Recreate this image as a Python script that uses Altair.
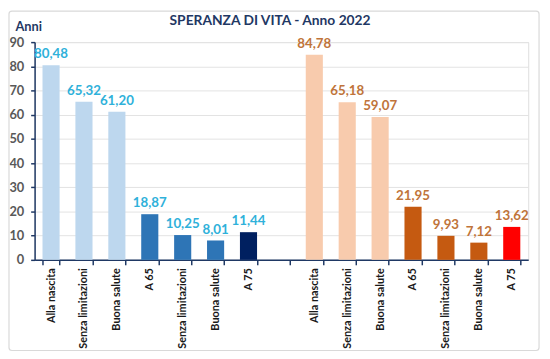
import json
import altair as alt
import pandas as pd

slots = ["M1", "M2", "M3", "M4", "M5", "M6", "M7", "gap", "F1", "F2", "F3", "F4", "F5", "F6", "F7"]
labels = ["Alla nascita", "Senza limitazioni", "Buona salute", "A 65", "Senza limitazioni", "Buona salute", "A 75",
          "", "Alla nascita", "Senza limitazioni", "Buona salute", "A 65", "Senza limitazioni", "Buona salute", "A 75"]
bar_slots = ["M1", "M2", "M3", "M4", "M5", "M6", "M7", "F1", "F2", "F3", "F4", "F5", "F6", "F7"]
values = [80.48, 65.32, 61.20, 18.87, 10.25, 8.01, 11.44, 84.78, 65.18, 59.07, 21.95, 9.93, 7.12, 13.62]
groups = ["M0", "M0", "M0", "M65", "M65", "M65", "M75", "F0", "F0", "F0", "F65", "F65", "F65", "F75"]
sex = ["M"] * 7 + ["F"] * 7
y_ticks = [0, 10, 20, 30, 40, 50, 60, 70, 80, 90]
title_text = ["SPERANZA DI VITA - Anno 2022"]

group_domain = ["M0", "M65", "M75", "F0", "F65", "F75"]
group_colors = ["#BDD7EE", "#2E75B6", "#002060", "#F8CBAD", "#C55A11", "#FF0000"]
sex_domain = ["M", "F"]
sex_colors = ["#2FB1DA", "#C0743A"]

df = pd.DataFrame({"slot": bar_slots, "v": values, "grp": groups, "sex": sex})

FONT = "Lato"
NAVY = "#1F3864"

label_map = json.dumps(dict(zip(slots, labels)))

x_enc = alt.X(
    "slot:N",
    scale=alt.Scale(domain=slots, paddingInner=0.48, paddingOuter=0.24),
    axis=alt.Axis(
        title=None, labelAngle=-90, labelAlign="right", labelBaseline="middle",
        labelExpr=f"{label_map}[datum.value]",
        tickBand="extent", tickSize=5, tickColor=NAVY, tickWidth=1.5, domainColor=NAVY, domainWidth=1.5,
        labelFont=FONT, labelFontSize=11, labelFontWeight="bold", labelColor="#1a1a1a",
        labelPadding=3, grid=False,
    ),
)

y_enc = alt.Y(
    "v:Q",
    scale=alt.Scale(domain=[0, 90], nice=False),
    axis=alt.Axis(
        title="Anni", titleAngle=0, titleX=-20, titleY=-9, titleAlign="left", titleBaseline="bottom",
        titleFont=FONT, titleFontSize=13, titleFontWeight="bold", titleColor=NAVY,
        values=y_ticks, tickSize=4, tickColor=NAVY, tickWidth=1.5, domainColor=NAVY, domainWidth=1.5,
        labelFont=FONT, labelFontSize=13, labelFontWeight="bold", labelColor="#595959", labelPadding=7,
        gridColor="#E3E3E3", gridWidth=1, labelOverlap=False,
    ),
)

bars = alt.Chart(df).mark_bar().encode(
    x=x_enc, y=y_enc,
    color=alt.Color("grp:N", scale=alt.Scale(domain=group_domain, range=group_colors), legend=None),
)

texts = alt.Chart(df).transform_calculate(
    lab="replace(format(datum.v, '.2f'), '.', ',')"
).mark_text(baseline="bottom", dy=-4, font=FONT, fontSize=13.5, fontWeight="bold").encode(
    x=x_enc,
    y=y_enc,
    text="lab:N",
    color=alt.Color("sex:N", scale=alt.Scale(domain=sex_domain, range=sex_colors), legend=None),
)

frame = alt.Chart(pd.DataFrame({"k": [0]})).mark_rect(
    fill=None, stroke="#D9D9D9", strokeWidth=1.2, cornerRadius=3
).encode(x=alt.value(-26), x2=alt.value(512), y=alt.value(-31.5), y2=alt.value(313))

title = alt.Chart(pd.DataFrame({"t": title_text})).mark_text(
    font=FONT, fontSize=14, fontWeight="bold", color=NAVY, align="center", baseline="middle"
).encode(text="t:N", x=alt.value(239), y=alt.value(-21))

chart = alt.layer(frame, bars, texts, title).resolve_scale(color="independent").properties(
    width=501, height=221,
    autosize=alt.AutoSizeParams(type="none"),
    padding={"left": 27, "top": 32, "right": 14, "bottom": 98},
).configure_view(stroke=None).configure(background="white")

chart.save("out.html", embed_options={"renderer": "svg", "actions": False})
